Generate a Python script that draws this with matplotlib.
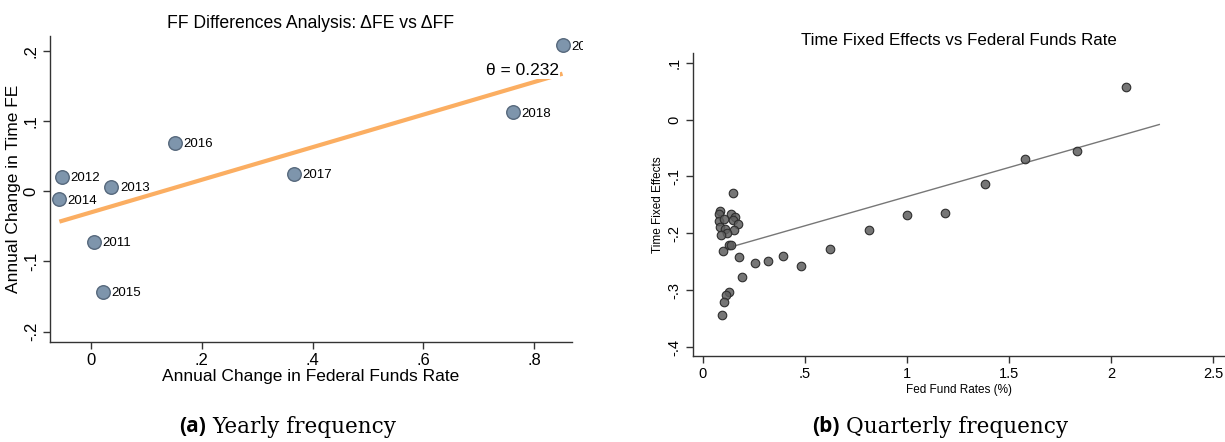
import numpy as np
import matplotlib
matplotlib.use("Agg")
import matplotlib.pyplot as plt
from matplotlib.transforms import Bbox, TransformedBbox

plt.rcParams['font.family'] = ['Liberation Sans', 'DejaVu Sans']

# yearly changes (panel a)
years = ['2011', '2012', '2013', '2014', '2015', '2016', '2017', '2018', '2019']
d_ff = [0.005, -0.052, 0.037, -0.057, 0.022, 0.152, 0.367, 0.761, 0.851]
d_fe = [-0.072, 0.0205, 0.006, -0.0115, -0.1435, 0.069, 0.0245, 0.1125, 0.208]
theta = 0.232

# quarterly levels (panel b)
ff_rate = [2.070, 1.830, 1.577, 1.384, 1.188, 0.999, 0.812, 0.623, 0.480, 0.394,
           0.321, 0.257, 0.192, 0.178, 0.146,
           0.085, 0.080, 0.139, 0.160, 0.078, 0.104, 0.148, 0.172, 0.083, 0.108,
           0.154, 0.117, 0.087, 0.127, 0.138, 0.098, 0.130, 0.114, 0.103, 0.096]
time_fe = [0.0574, -0.0545, -0.0692, -0.1137, -0.1635, -0.167, -0.1934, -0.2274, -0.2567, -0.2397,
           -0.2485, -0.2515, -0.2767, -0.2424, -0.1293,
           -0.1615, -0.1668, -0.1668, -0.1708, -0.1785, -0.1748, -0.1772, -0.1840, -0.1885, -0.1925,
           -0.1948, -0.2003, -0.2037, -0.2213, -0.2213, -0.2305, -0.3030, -0.3093, -0.3215, -0.3437]
# fitted line for panel b
fit_b_range = [0.11, 2.235]
fit_b_slope = 0.1027
fit_b_intercept = -0.2381

fig = plt.figure(figsize=(12.25, 4.42), dpi=100)

def style_axes(ax, fs):
    ax.spines['top'].set_visible(False)
    ax.spines['right'].set_visible(False)
    for s in ('left', 'bottom'):
        ax.spines[s].set_color('#333333')
        ax.spines[s].set_linewidth(1.0)
    ax.tick_params(direction='out', length=5, width=1, color='#333333', labelsize=fs, pad=3)
    for lbl in ax.get_yticklabels():
        lbl.set_rotation(90)
        lbl.set_va('center')

# panel a
ax1 = fig.add_axes([0.0408, 0.2269, 0.4261, 0.6916])
x = np.array(d_ff)
y = np.array(d_fe)
icpt = y.mean() - theta * x.mean()
xl = np.array([x.min(), x.max()])
ax1.plot(xl, icpt + theta * xl, color='#fbae62', lw=3, solid_capstyle='butt', zorder=2)
ax1.scatter(x, y, s=95, facecolor='#7e95ac', edgecolor='#56687c', linewidth=1.0, zorder=3)
# year labels are cut a little past the right edge of the plot area
label_clip = TransformedBbox(Bbox([[-0.05, -0.05], [1.021, 1.05]]), ax1.transAxes)
for xi, yi, yr in zip(x, y, years):
    t = ax1.annotate(yr, (xi, yi), xytext=(6, -1), textcoords='offset points',
                     fontsize=9.5, va='center', ha='left', annotation_clip=False)
    t.set_clip_box(label_clip)
    t.set_clip_on(True)
ax1.text(0.845, 0.1715, 'θ = 0.232', ha='right', va='center', fontsize=12.5,
         bbox=dict(facecolor='white', edgecolor='none', pad=0.5), zorder=4)
ax1.set_xlim(-0.074, 0.868)
ax1.set_ylim(-0.2142, 0.221)
ax1.set_xticks([0, 0.2, 0.4, 0.6, 0.8])
ax1.set_xticklabels(['0', '.2', '.4', '.6', '.8'])
ax1.set_yticks([-0.2, -0.1, 0, 0.1, 0.2])
ax1.set_yticklabels(['-.2', '-.1', '0', '.1', '.2'])
style_axes(ax1, 12)
ax1.set_xlabel('Annual Change in Federal Funds Rate', fontsize=12.5, labelpad=1)
ax1.set_ylabel('Annual Change in Time FE', fontsize=12.5, labelpad=2)
ax1.set_title('FF Differences Analysis: ΔFE vs ΔFF', fontsize=12.7, pad=6)

# panel b
ax2 = fig.add_axes([0.5657, 0.1946, 0.4335, 0.6844])
xf = np.array(fit_b_range)
ax2.plot(xf, fit_b_intercept + fit_b_slope * xf, color='#777777', lw=1.0, zorder=2)
ax2.scatter(ff_rate, time_fe, s=38, facecolor=(0.37, 0.37, 0.37, 0.85), edgecolor='#2e2e2e',
            linewidth=0.8, zorder=3)
ax2.set_xlim(-0.048, 2.552)
ax2.set_ylim(-0.4158, 0.1164)
ax2.set_xticks([0, 0.5, 1, 1.5, 2, 2.5])
ax2.set_xticklabels(['0', '.5', '1', '1.5', '2', '2.5'])
ax2.set_yticks([-0.4, -0.3, -0.2, -0.1, 0, 0.1])
ax2.set_yticklabels(['-.4', '-.3', '-.2', '-.1', '0', '.1'])
style_axes(ax2, 10.5)
ax2.set_xlabel('Fed Fund Rates (%)', fontsize=8.5, labelpad=2)
ax2.set_ylabel('Time Fixed Effects', fontsize=8.5, labelpad=3)
ax2.set_title('Time Fixed Effects vs Federal Funds Rate', fontsize=12.2, pad=6)

# captions
cap_y = 1 - 427 / 442
for xs, tag, txt in [(206 / 1225, '(a)', 'Yearly frequency'),
                     (840 / 1225, '(b)', 'Quarterly frequency')]:
    fig.text(xs, cap_y, tag, ha='right', va='center', fontsize=15,
             fontweight='bold', family='Open Sans')
    fig.text(xs + 6 / 1225, cap_y, txt, ha='left', va='center', fontsize=15.5,
             family='DejaVu Serif')

fig.savefig('out.png', dpi=100)
